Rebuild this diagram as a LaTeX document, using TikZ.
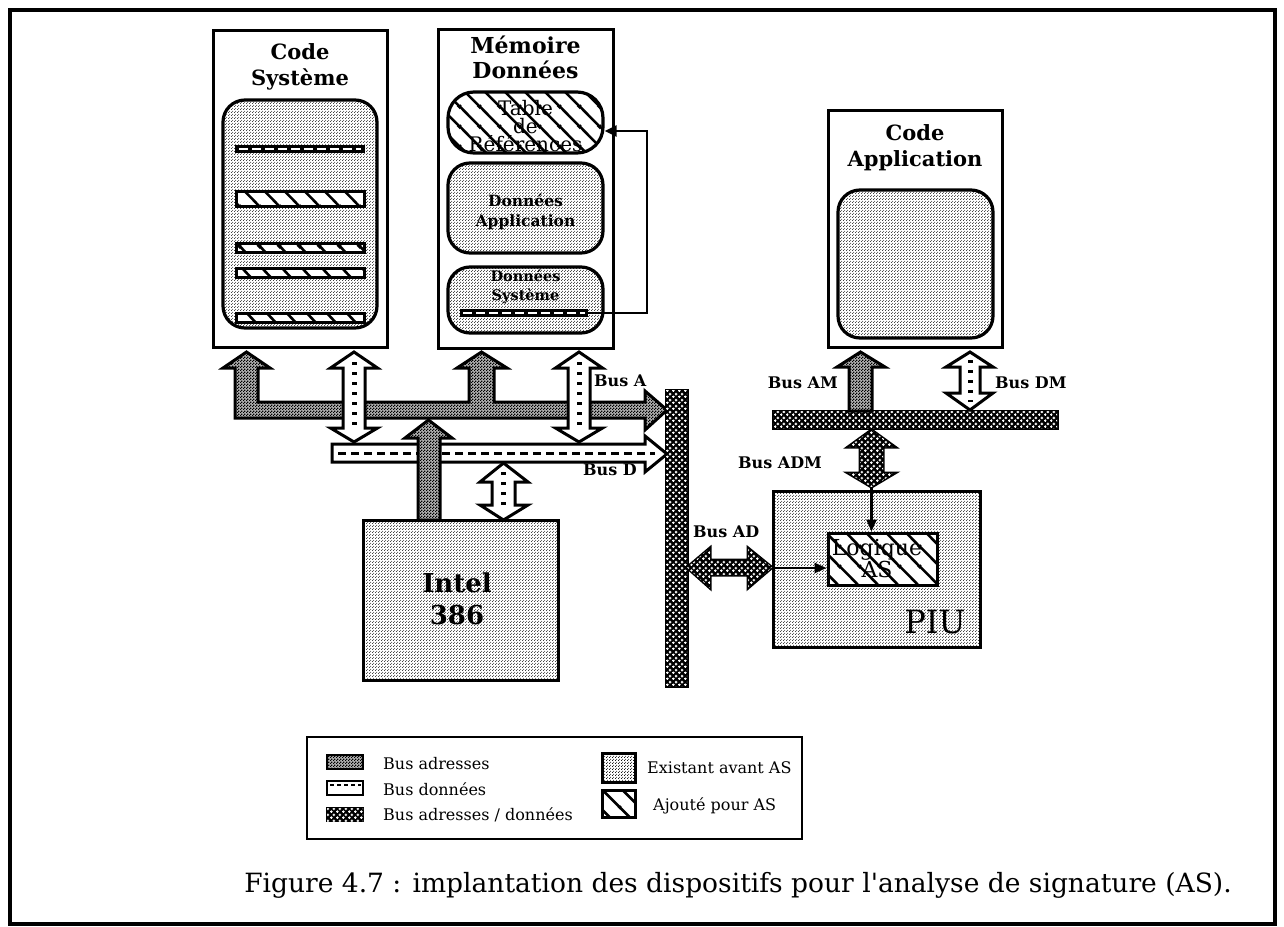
\documentclass[tikz,border=0pt]{standalone}
\usepackage{fontspec}
\setmainfont{DejaVu Serif}[Ligatures=TeXOff]
\usetikzlibrary{patterns,arrows.meta}
% address bus texture
\pgfdeclarepatternformonly{checker}{\pgfqpoint{0pt}{0pt}}{\pgfqpoint{3pt}{3pt}}{\pgfqpoint{3pt}{3pt}}{%
  \pgfpathrectangle{\pgfqpoint{0pt}{0pt}}{\pgfqpoint{1.5pt}{1.5pt}}%
  \pgfpathrectangle{\pgfqpoint{1.5pt}{1.5pt}}{\pgfqpoint{1.5pt}{1.5pt}}%
  \pgfusepath{fill}}
% dotted texture (existing parts)
\pgfdeclarepatternformonly{dotscreen}{\pgfqpoint{0pt}{0pt}}{\pgfqpoint{3pt}{3pt}}{\pgfqpoint{3pt}{3pt}}{%
  \pgfpathcircle{\pgfqpoint{0.75pt}{0.75pt}}{0.65pt}%
  \pgfpathcircle{\pgfqpoint{2.25pt}{2.25pt}}{0.65pt}%
  \pgfusepath{fill}}
% address/data bus texture (white crosses)
\pgfdeclarepatternformonly{crosses}{\pgfqpoint{0pt}{0pt}}{\pgfqpoint{6pt}{6pt}}{\pgfqpoint{6pt}{6pt}}{%
  \pgfpathrectangle{\pgfqpoint{0.1pt}{0.9pt}}{\pgfqpoint{2.8pt}{1.2pt}}%
  \pgfpathrectangle{\pgfqpoint{0.9pt}{0.1pt}}{\pgfqpoint{1.2pt}{2.8pt}}%
  \pgfpathrectangle{\pgfqpoint{3.1pt}{3.9pt}}{\pgfqpoint{2.8pt}{1.2pt}}%
  \pgfpathrectangle{\pgfqpoint{3.9pt}{3.1pt}}{\pgfqpoint{1.2pt}{2.8pt}}%
  \pgfusepath{fill}}
% wide hatch (added parts)
\pgfdeclarepatternformonly{widehatch}{\pgfqpoint{0pt}{0pt}}{\pgfqpoint{20pt}{20pt}}{\pgfqpoint{20pt}{20pt}}{%
  \pgfsetlinewidth{2.6pt}%
  \pgfpathmoveto{\pgfqpoint{-1pt}{21pt}}\pgfpathlineto{\pgfqpoint{21pt}{-1pt}}%
  \pgfpathmoveto{\pgfqpoint{-3pt}{3pt}}\pgfpathlineto{\pgfqpoint{3pt}{-3pt}}%
  \pgfpathmoveto{\pgfqpoint{17pt}{23pt}}\pgfpathlineto{\pgfqpoint{23pt}{17pt}}%
  \pgfusepath{stroke}}
\tikzset{
  box/.style={draw, line width=3pt, fill=white, inner sep=0pt},
  rbox/.style={draw, line width=3.2pt, rounded corners=22pt, inner sep=0pt},
  existfill/.style={pattern=dotscreen},
  addedfill/.style={fill=white, postaction={pattern=widehatch}},
  addrbus/.style={draw, line width=3pt, line join=miter, fill=black!30, postaction={pattern=checker}},
  databus/.style={draw, line width=3pt, line join=miter, fill=white},
  adbus/.style={draw, line width=3pt, line join=miter, fill=black, postaction={pattern=crosses, pattern color=white}},
  datadash/.style={line width=3pt, dash pattern=on 8pt off 5pt},
  vdash/.style={line width=5pt, dash pattern=on 3pt off 7pt},
  title/.style={align=center, font=\bfseries\fontsize{21}{26}\selectfont, inner sep=0pt},
  inner/.style={align=center, font=\bfseries\fontsize{15.5}{20}\selectfont, inner sep=0pt},
  lbl/.style={font=\bfseries\fontsize{16}{18}\selectfont, inner sep=0pt},
  legtxt/.style={font=\fontsize{16}{18}\selectfont, inner sep=0pt, anchor=west},
  thin/.style={line width=2.5pt, -{Triangle[length=12pt,width=10pt]}},
}
\begin{document}
\begin{tikzpicture}[x=1pt,y=-1pt]
\useasboundingbox (0,0) rectangle (1284,926);
% outer frame
\draw[line width=4pt] (10,10) rectangle (1275,924);

% ---------------- Code Systeme
\node[box, minimum width=174pt, minimum height=317pt] (cs) at (300,188.5) {};
\node[title] (cstitle) at (300,67) {Code\\Système};
\node[rbox, existfill, minimum width=154pt, minimum height=228pt] (csin) at (300,214) {};
\path[fill=black] (235,145) rectangle (365,153);
\draw[white, line width=2pt, dash pattern=on 9pt off 4pt] (239,149) -- (361,149);
\draw[line width=3pt, addedfill] (236,191) rectangle (364,206);
\draw[line width=3pt, addedfill] (236,243) rectangle (364,252);
\draw[line width=3pt, addedfill] (236,268) rectangle (364,277);
\draw[line width=3pt, addedfill] (236,313) rectangle (364,322);

% ---------------- Memoire Donnees
\node[box, minimum width=175pt, minimum height=319pt] (md) at (525.5,188.5) {};
\node[title, font=\bfseries\fontsize{22}{25}\selectfont] (mdtitle) at (525.5,57) {Mémoire\\Données};
\node[rbox, addedfill, rounded corners=26pt, minimum width=155pt, minimum height=61pt] (tab) at (525.5,122.5) {};
\node[align=center, inner sep=0pt, font=\fontsize{20}{18}\selectfont] (tabtxt) at (525.5,126) {Table\\de\\Références};
\node[rbox, existfill, minimum width=155pt, minimum height=90pt] (dapp) at (525.5,208) {};
\node[inner] (dapptxt) at (525.5,212) {Données\\Application};
\node[rbox, existfill, minimum width=155pt, minimum height=66pt] (dsys) at (525.5,300) {};
\node[inner, font=\bfseries\fontsize{14.5}{19}\selectfont] (dsystxt) at (525.5,287) {Données\\Système};
\path[fill=black] (460,309) rectangle (588,317);
\draw[white, line width=2pt, dash pattern=on 9pt off 4pt] (463,313) -- (585,313);
\coordinate (fbA) at (588,313);
\coordinate (fbB) at (647,313);
\coordinate (fbC) at (647,131);
\draw[line width=2.5pt, -{Triangle[length=12pt,width=11pt]}] (fbA) -- (fbB) -- (fbC) -- (tab.east |- fbC);

% ---------------- Code Application
\node[box, minimum width=174pt, minimum height=237pt] (ca) at (915,228.5) {};
\node[title] (catitle) at (915,148) {Code\\Application};
\node[rbox, existfill, minimum width=155pt, minimum height=148pt] (cain) at (915.5,264) {};

% ---------------- Intel 386
\node[box, existfill, minimum width=195pt, minimum height=160pt] (intel) at (460.5,600) {};
\node[align=center, inner sep=0pt, font=\bfseries\fontsize{26}{32}\selectfont] (inteltxt) at (457,599) {Intel\\386};

% ---------------- data bus (horizontal)
\draw[databus] (332,444) -- (645,444) -- (645,436) -- (667,454) -- (645,472) -- (645,462) -- (332,462) -- cycle;
\draw[datadash] (338,453) -- (655,453);

% ---------------- address bus (U shape)
\draw[addrbus] (246.5,352) -- (270,368) -- (258,368) -- (258,402) -- (469,402) -- (469,368) -- (457,368)
  -- (481.5,352) -- (507,368) -- (494,368) -- (494,402) -- (645,402) -- (645,391) -- (667,410)
  -- (645,430) -- (645,418) -- (235,418) -- (235,368) -- (223,368) -- cycle;

% ---------------- data double arrows
\foreach \cx in {354,579}{
  \draw[databus] (\cx,352) -- (\cx+23.5,368) -- (\cx+11,368) -- (\cx+11,428) -- (\cx+23.5,428) -- (\cx,442)
    -- (\cx-23.5,428) -- (\cx-11,428) -- (\cx-11,368) -- (\cx-23.5,368) -- cycle;
  \draw[vdash] (\cx,362) -- (\cx,432);
}
% Intel address arrow
\draw[addrbus] (428.5,420) -- (452,438) -- (440,438) -- (440,520) -- (418,520) -- (418,438) -- (405,438) -- cycle;
% Intel data arrow
\draw[databus] (503.5,463) -- (528,482) -- (515,482) -- (515,505) -- (528,505) -- (503.5,520)
  -- (480,505) -- (492,505) -- (492,482) -- (480,482) -- cycle;
\draw[vdash] (503.5,472) -- (503.5,512);

\node[lbl, anchor=west] (busA) at (594,381) {Bus A};
\node[lbl, anchor=west] (busD) at (583,470) {Bus D};

% ---------------- vertical AD bus
\draw[adbus] (666,390) rectangle (687,686);

% ---------------- right side
\draw[adbus] (773,411) rectangle (1057,428);
\draw[addrbus] (860.5,352) -- (885,367) -- (872,367) -- (872,411) -- (849,411) -- (849,367) -- (837,367) -- cycle;
\draw[databus] (970,352) -- (993,367) -- (980,367) -- (980,393) -- (993,393) -- (970,410)
  -- (946,393) -- (960,393) -- (960,367) -- (946,367) -- cycle;
\draw[vdash] (970,360) -- (970,402);
\node[lbl, anchor=east] (busAM) at (838,383) {Bus AM};
\node[lbl, anchor=west] (busDM) at (995,383) {Bus DM};

\draw[adbus] (871.5,430) -- (895,447) -- (883,447) -- (883,473) -- (895,473) -- (871.5,487)
  -- (848,473) -- (860,473) -- (860,447) -- (848,447) -- cycle;
\node[lbl, anchor=west] (busADM) at (738,463) {Bus ADM};

\node[box, existfill, minimum width=207pt, minimum height=156pt] (piu) at (876.5,569) {};
\node[inner sep=0pt, font=\fontsize{32}{34}\selectfont] (piutxt) at (935,622) {PIU};
\node[draw, line width=3pt, addedfill, minimum width=109pt, minimum height=52pt, inner sep=0pt] (logic) at (882.5,559) {};
\node[align=center, inner sep=0pt, font=\fontsize{22}{22}\selectfont] (logictxt) at (877,559) {Logique\\AS};
\coordinate (adm) at (871.5,487);
\draw[thin] (adm) -- (adm |- logic.north);
\draw[adbus] (687,567.5) -- (710,548) -- (710,560) -- (748,560) -- (748,548) -- (772,567.5)
  -- (748,588) -- (748,575) -- (710,575) -- (710,588) -- cycle;
\node[lbl, anchor=west] (busAD) at (693,532) {Bus AD};
\coordinate (piuin) at (774,568);
\draw[thin] (piuin) -- (piuin -| logic.west);

% ---------------- legend
\node[draw, line width=2.5pt, minimum width=495pt, minimum height=102pt, inner sep=0pt] (legend) at (554.5,788) {};
\draw[line width=2pt, fill=black!30, postaction={pattern=checker}] (327,755) rectangle (363,769);
\draw[line width=2.5pt, fill=white] (327,781) rectangle (363,795);
\draw[line width=2pt, dash pattern=on 4pt off 3pt] (330,785) -- (361,785);
\draw[line width=2pt, fill=black, postaction={pattern=crosses, pattern color=white}] (327,808) rectangle (363,821);
\draw[line width=3pt, existfill] (602,753) rectangle (635,782);
\draw[line width=3pt, addedfill] (602,790) rectangle (635,817);
\node[legtxt] (l1) at (383,764) {Bus adresses};
\node[legtxt] (l2) at (383,789) {Bus données};
\node[legtxt] (l3) at (383,815) {Bus adresses / données};
\node[legtxt] (l4) at (647,768) {Existant avant AS};
\node[legtxt] (l5) at (653,806) {Ajouté pour AS};

% ---------------- caption
\node[anchor=base, inner sep=0pt, font=\fontsize{26.5}{30}\selectfont] (caption) at (738,892) {Figure 4.7 : implantation des dispositifs pour l'analyse de signature (AS).};
\end{tikzpicture}
\end{document}
